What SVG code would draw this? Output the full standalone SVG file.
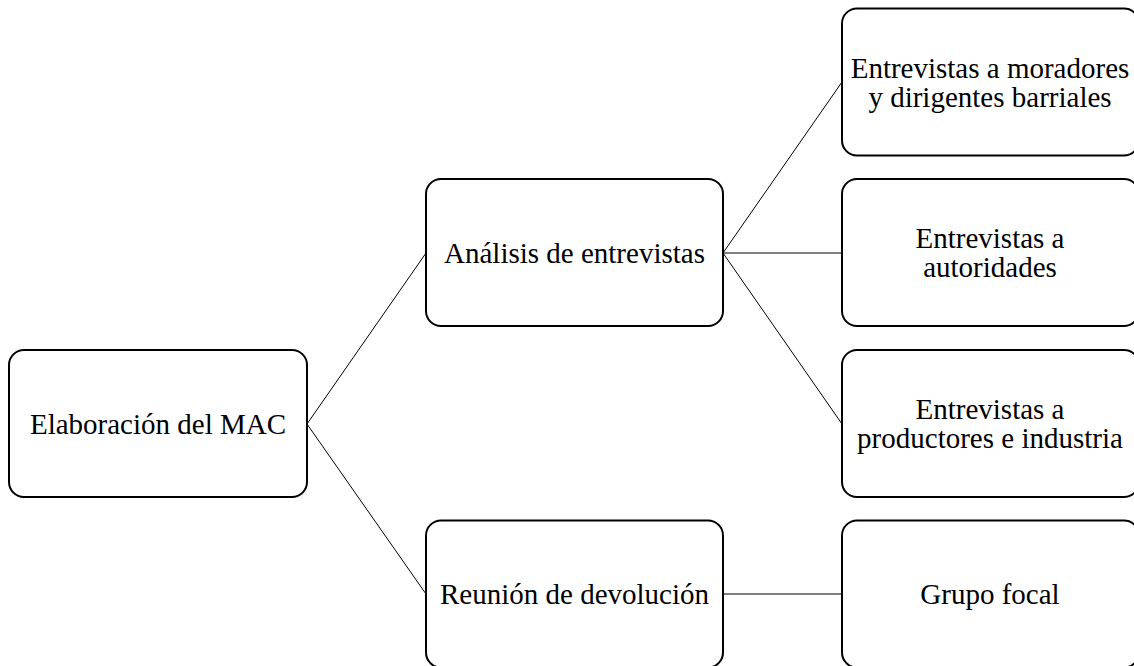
<svg xmlns="http://www.w3.org/2000/svg" width="1134" height="666" viewBox="0 0 1134 666">
<style>
.box{fill:#fff;stroke:#000;stroke-width:2}
.lbl{font-family:"Liberation Serif","Times New Roman",serif;font-size:29px;fill:#000;text-anchor:middle}
.conn{stroke:#000;stroke-width:1;fill:none}
</style>
<rect width="1134" height="666" fill="#fff"/>
<g id="connectors">
<line class="conn" x1="307" y1="424" x2="426" y2="253"/>
<line class="conn" x1="307" y1="424" x2="426" y2="594"/>
<line class="conn" x1="723" y1="253" x2="842" y2="82"/>
<line class="conn" x1="723" y1="253" x2="842" y2="253"/>
<line class="conn" x1="723" y1="253" x2="842" y2="424"/>
<line class="conn" x1="723" y1="594" x2="842" y2="594"/>
</g>
<g id="n-mac">
<rect class="box" x="9" y="350" width="298" height="147" rx="15"/>
<text class="lbl" x="158" y="434">Elaboración del MAC</text>
</g>
<g id="n-analisis">
<rect class="box" x="426" y="179" width="297" height="147" rx="15"/>
<text class="lbl" x="574.5" y="263">Análisis de entrevistas</text>
</g>
<g id="n-reunion">
<rect class="box" x="426" y="520.5" width="297" height="147" rx="15"/>
<text class="lbl" x="574.5" y="604">Reunión de devolución</text>
</g>
<g id="n-moradores">
<rect class="box" x="842" y="8.5" width="297" height="147" rx="15"/>
<text class="lbl" x="990" y="77.5">Entrevistas a moradores</text>
<text class="lbl" x="990" y="106.5">y dirigentes barriales</text>
</g>
<g id="n-autoridades">
<rect class="box" x="842" y="179" width="297" height="147" rx="15"/>
<text class="lbl" x="990" y="248">Entrevistas a</text>
<text class="lbl" x="990" y="277">autoridades</text>
</g>
<g id="n-productores">
<rect class="box" x="842" y="350" width="297" height="147" rx="15"/>
<text class="lbl" x="990" y="419">Entrevistas a</text>
<text class="lbl" x="990" y="448">productores e industria</text>
</g>
<g id="n-grupo">
<rect class="box" x="842" y="520.5" width="297" height="147" rx="15"/>
<text class="lbl" x="990" y="604">Grupo focal</text>
</g>
</svg>
